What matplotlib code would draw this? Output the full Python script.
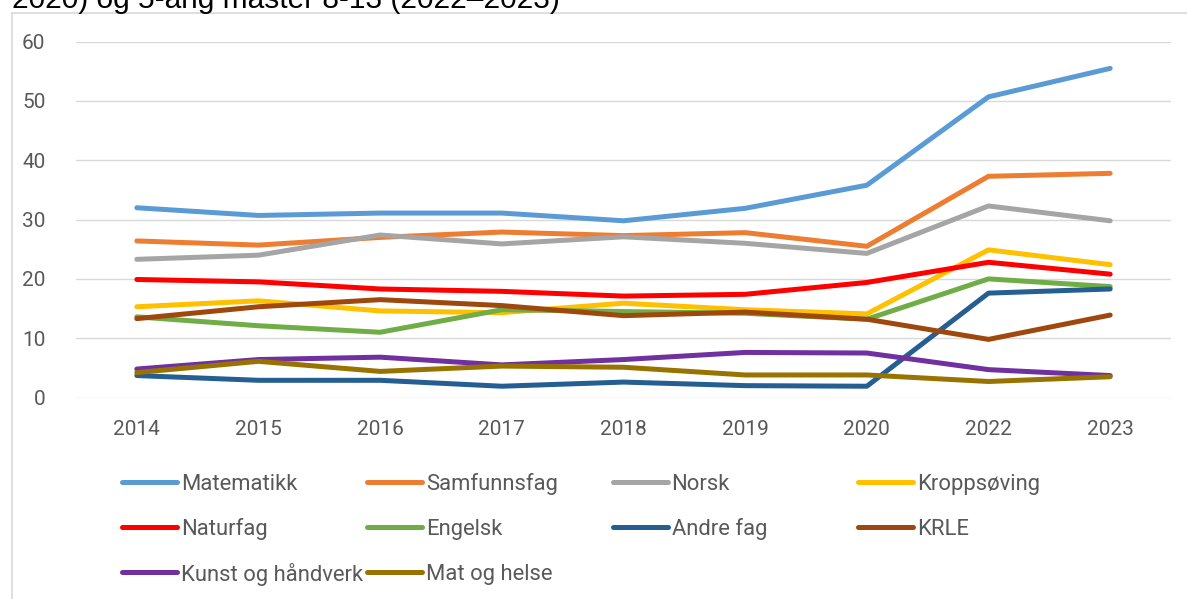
import matplotlib
matplotlib.use("Agg")
import matplotlib.pyplot as plt
from matplotlib.lines import Line2D

# --- data -------------------------------------------------------------------
years = ["2014", "2015", "2016", "2017", "2018", "2019", "2020", "2022", "2023"]

matematikk  = [32.0, 30.7, 31.1, 31.1, 29.8, 31.9, 35.8, 50.7, 55.5]
samfunnsfag = [26.4, 25.7, 27.0, 27.9, 27.3, 27.8, 25.5, 37.3, 37.8]
norsk       = [23.3, 24.0, 27.4, 25.9, 27.1, 26.0, 24.3, 32.3, 29.8]
kroppsoving = [15.3, 16.3, 14.6, 14.3, 15.9, 14.8, 14.1, 24.9, 22.4]
naturfag    = [19.9, 19.5, 18.3, 17.9, 17.1, 17.4, 19.4, 22.8, 20.8]
engelsk     = [13.6, 12.1, 11.0, 14.8, 14.5, 14.2, 13.2, 20.0, 18.7]
andre_fag   = [3.7, 2.9, 2.9, 1.9, 2.6, 2.0, 1.9, 17.6, 18.3]
krle        = [13.3, 15.3, 16.5, 15.5, 13.8, 14.4, 13.2, 9.8, 13.9]
kunst       = [4.8, 6.4, 6.8, 5.5, 6.4, 7.6, 7.5, 4.7, 3.7]
mat_helse   = [4.2, 6.1, 4.4, 5.3, 5.1, 3.8, 3.8, 2.7, 3.5]

series = [
    ("Matematikk", matematikk, "#5B9BD5"),
    ("Samfunnsfag", samfunnsfag, "#ED7D31"),
    ("Norsk", norsk, "#A5A5A5"),
    ("Kroppsøving", kroppsoving, "#FFC000"),
    ("Naturfag", naturfag, "#FF0000"),
    ("Engelsk", engelsk, "#70AD47"),
    ("Andre fag", andre_fag, "#255E91"),
    ("KRLE", krle, "#9E480E"),
    ("Kunst og håndverk", kunst, "#7030A0"),
    ("Mat og helse", mat_helse, "#997300"),
]

title_tail = "2020) og 5-årig master 8-13 (2022–2023)"

# --- figure -----------------------------------------------------------------
W, H = 1187, 599
fig = plt.figure(figsize=(W / 100, H / 100), dpi=100)

def fx(px):
    return px / W

def fy(py):
    return 1 - py / H

ax = fig.add_axes([fx(76), fy(397.5), fx(1171) - fx(76), fy(41.7) - fy(397.5)])

x = range(len(years))
for name, vals, col in series:
    ax.plot(x, vals, color=col, lw=3.6, solid_capstyle="round",
            solid_joinstyle="round")

ax.set_xlim(-0.5, len(years) - 0.5)
ax.set_ylim(0, 60)
ax.set_yticks(range(0, 61, 10))
ax.set_xticks(list(x))
ax.set_xticklabels(years)
ax.grid(axis="y", color="#D9D9D9", lw=1.0)
ax.set_axisbelow(True)
for s in ax.spines.values():
    s.set_visible(False)
ax.tick_params(length=0, colors="#595959", labelsize=15, pad=16)
ax.tick_params(axis="y", pad=22)
for lab in ax.get_xticklabels() + ax.get_yticklabels():
    lab.set_family("Roboto")

# chart frame (partly visible)
fig.add_artist(Line2D([fx(12), 1], [fy(12.7), fy(12.7)], color="#D9D9D9", lw=1.2))
fig.add_artist(Line2D([fx(12), fx(12)], [fy(12.7), 0], color="#D9D9D9", lw=1.2))

# cut-off title
fig.text(fx(12), fy(8), title_tail, fontsize=21.5, family="Liberation Sans",
         color="black", va="baseline", ha="left")

# legend, laid out like Excel: 4 equal columns
for i, (name, vals, col) in enumerate(series):
    c, r = i % 4, i // 4
    x0 = 122 + c * 245.3
    y0 = 481.7 + r * 45
    fig.add_artist(Line2D([fx(x0), fx(x0 + 55)], [fy(y0), fy(y0)], color=col,
                          lw=3.6, solid_capstyle="round"))
    fig.text(fx(x0 + 59), fy(y0), name, fontsize=15.8, family="Roboto",
             color="#595959", va="center_baseline", ha="left")

fig.savefig("out.png", dpi=100)
